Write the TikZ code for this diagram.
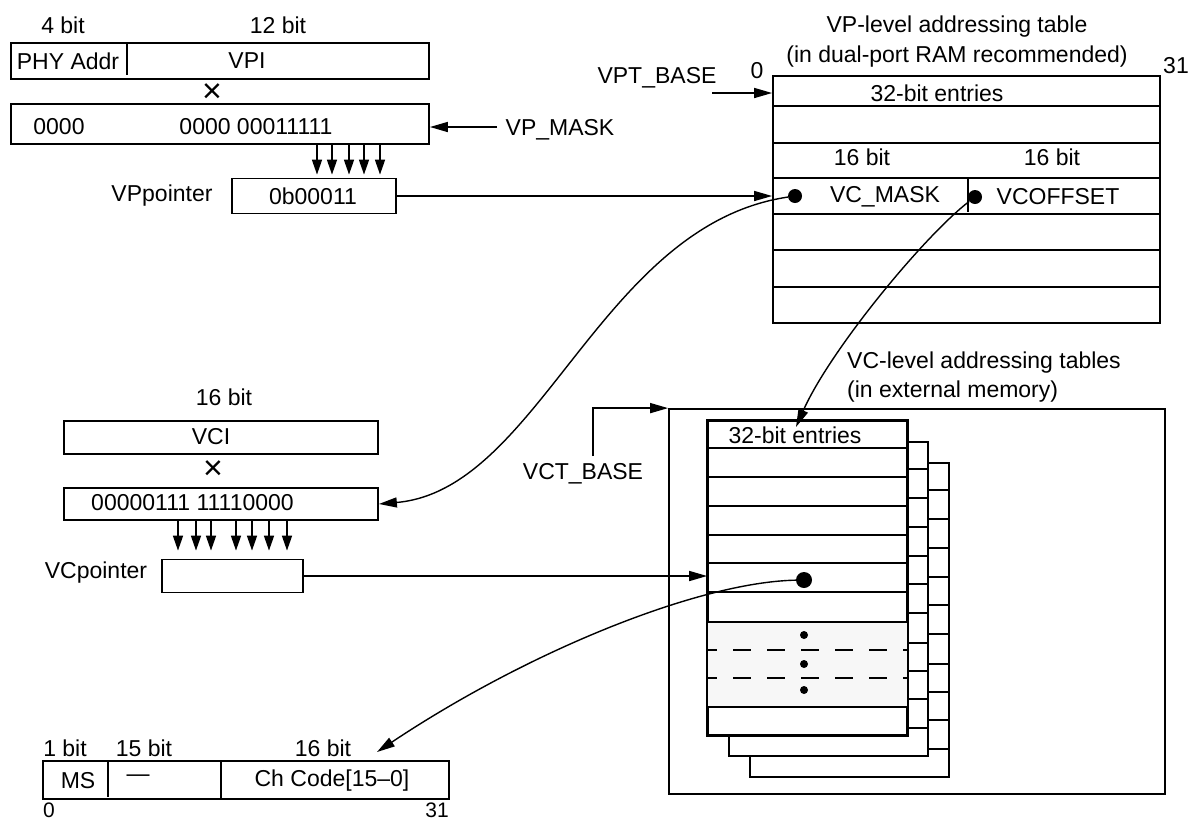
\documentclass[tikz,border=0pt]{standalone}
\usepackage{fontspec}
\setmainfont{Liberation Sans}
\usetikzlibrary{arrows.meta,calc}
\definecolor{shadegray}{HTML}{F7F7F7}
\begin{document}
\begin{tikzpicture}[x=1pt,y=-1pt,
  every node/.style={inner sep=0pt, font=\fontsize{23}{27}\selectfont},
  box/.style={draw, line width=1.8pt, inner sep=0pt},
  rule/.style={line width=1.8pt},
  times/.style={font=\fontsize{34}{36}\selectfont},
  arr/.style={line width=1.6pt, -{Triangle[length=18pt,width=10pt]}},
  darr/.style={line width=1.6pt, -{Triangle[length=15pt,width=10pt]}},
  cur/.style={line width=1.4pt, -{Triangle[length=18pt,width=10pt]}},
  bigdot/.style={circle, fill, inner sep=0pt, minimum size=16pt},
  meddot/.style={circle, fill, inner sep=0pt, minimum size=14pt},
  smalldot/.style={circle, fill, inner sep=0pt, minimum size=8pt},
  edgelbl/.style={font=\fontsize{21}{24}\selectfont}]
\useasboundingbox (0,0) rectangle (1190,820);

% ---------- VP header ----------
\node (t4) at (63,25) {4 bit};
\node (t12) at (278,25) {12 bit};
\node[box, minimum width=418pt, minimum height=36pt] (hdr) at (220,61) {};
\draw[rule] (127,43) -- (127,75);
\node (phy) at (68,61) {PHY Addr};
\node (vpi) at (247,61) {VPI};
\node[times] (x1) at (212,93) {×};
\node[box, minimum width=418pt, minimum height=40pt] (mask1) at (220,124) {};
\node (m1a) at (59,127) {0000};
\node (m1b) at (256,127) {0000 00011111};
\node[box, minimum width=164pt, minimum height=35pt] (vpp) at (314,196) {};
\node (vpplbl) at (162,196) {VPpointer};
\node (vppval) at (313,196) {0b00011};
\foreach \x in {317,332,349,364,380}
  \draw[darr, shorten >=3pt] (mask1.south -| \x,0) -- (vpp.north -| \x,0);
\node (vpm) at (560,130) {VP\_MASK};
\coordinate (vpms) at (497,127);
\draw[arr] (vpms) -- (mask1.east |- vpms);

% ---------- VP table ----------
\node (vpt1) at (957,27) {VP-level addressing table};
\node (vpt2) at (957,57) {(in dual-port RAM recommended)};
\node[box, minimum width=387pt, minimum height=247pt] (vpt) at (966.5,199.5) {};
\foreach \y in {106,143,178,214,250,287}
  \draw[rule] (vpt.west |- 0,\y) -- (vpt.east |- 0,\y);
\draw[rule] (968,178) -- (968,212);
\node (vp0) at (757,71) {0};
\node (vp31) at (1176,66) {31};
\node (vp32) at (937,93) {32-bit entries};
\node (vp16a) at (862,157) {16 bit};
\node (vp16b) at (1052,157) {16 bit};
\node (vcm) at (885,197) {VC\_MASK};
\node (vco) at (1058,197) {VCOFFSET};
\node[meddot] (dmask) at (795,196) {};
\node[meddot] (doff) at (975,197) {};
\draw[arr] (vpp.east) -- (vpp.east -| vpt.west);
\node (vptb) at (657,78) {VPT\_BASE};
\coordinate (vptbs) at (712,93);
\draw[arr] (vptbs) -- (vptbs -| vpt.west);

% ---------- VC header ----------
\node (t16b) at (224,397) {16 bit};
\node[box, minimum width=314pt, minimum height=33pt] (vci) at (221,437.5) {};
\node (vcitxt) at (211,437) {VCI};
\node[times] (x2) at (213,470) {×};
\node[box, minimum width=314pt, minimum height=32pt] (mask2) at (221,504) {};
\node (m2) at (192.5,503) {00000111 11110000};
\node[box, minimum width=141pt, minimum height=33pt] (vcp) at (232.5,576) {};
\node (vcplbl) at (96,573) {VCpointer};
\foreach \x in {178,196,211,236,252,269,287}
  \draw[darr, shorten >=8pt] (mask2.south -| \x,0) -- (vcp.north -| \x,0);

% ---------- VC tables ----------
\node[anchor=west] (vct1) at (847,363) {VC-level addressing tables};
\node[anchor=west] (vct2) at (847,392) {(in external memory)};
\node[box, minimum width=496pt, minimum height=385pt] (outer) at (917,601.5) {};
\node (vctb) at (583,474) {VCT\_BASE};
\coordinate (vctbs) at (593,456);
\draw[arr] (vctbs) |- (outer.north west);

\foreach \o in {42,21} {
  \draw[rule, fill=white] (708+\o,421+\o) rectangle (907+\o,735+\o);
  \foreach \r in {27,56,85,114,142,171,201,229,257,286}
    \draw[rule] (708+\o,421+\o+\r) -- (907+\o,421+\o+\r);
}
\node[box, fill=white, minimum width=199pt, minimum height=314pt] (vtab) at (807.5,578) {};
\fill[shadegray] (vtab.west |- 0,622) rectangle (vtab.east |- 0,707);
\foreach \y in {448,477,506,535,563,592,622,707}
  \draw[rule] (vtab.west |- 0,\y) -- (vtab.east |- 0,\y);
\foreach \y in {650,678}
  \draw[line width=1.6pt, dash pattern=on 18pt off 16pt, dash phase=8pt] (vtab.west |- 0,\y) -- (vtab.east |- 0,\y);
\draw[rule] (vtab.north west) rectangle (vtab.south east);
\node (vc32) at (795,435) {32-bit entries};
\node[bigdot] (bdot) at (804,580) {};
\node[smalldot] (s1) at (804,635) {};
\node[smalldot] (s2) at (804,664) {};
\node[smalldot] (s3) at (804,690) {};
\draw[arr] (vcp.east) -- (vcp.east -| vtab.west);

% ---------- channel entry ----------
\node (b1) at (65,748) {1 bit};
\node (b15) at (144,748) {15 bit};
\node (b16) at (323,748) {16 bit};
\node[box, minimum width=406pt, minimum height=38pt] (btab) at (246,780) {};
\draw[rule] (108,761) -- (108,797);
\draw[rule] (221,761) -- (221,799);
\node (ms) at (78,781) {MS};
\node (dsh) at (138,778) {—};
\node (chc) at (332,781) {Ch Code[15–0]};
\node[edgelbl, anchor=north west] (b0) at (43,803) {0};
\node[edgelbl, anchor=north] (b31) at (437,803) {31};

% ---------- curved connectors ----------
\draw[cur] (dmask) .. controls (600,225) and (540,490) .. (mask2.east);
\coordinate (vcin) at (796,427);
\draw[cur] (doff) .. controls (925,235) and (830,350) .. (vcin);
\coordinate (btin) at (377,752);
\draw[cur] (bdot) .. controls (700,582) and (530,650) .. (btin);
\end{tikzpicture}
\end{document}
